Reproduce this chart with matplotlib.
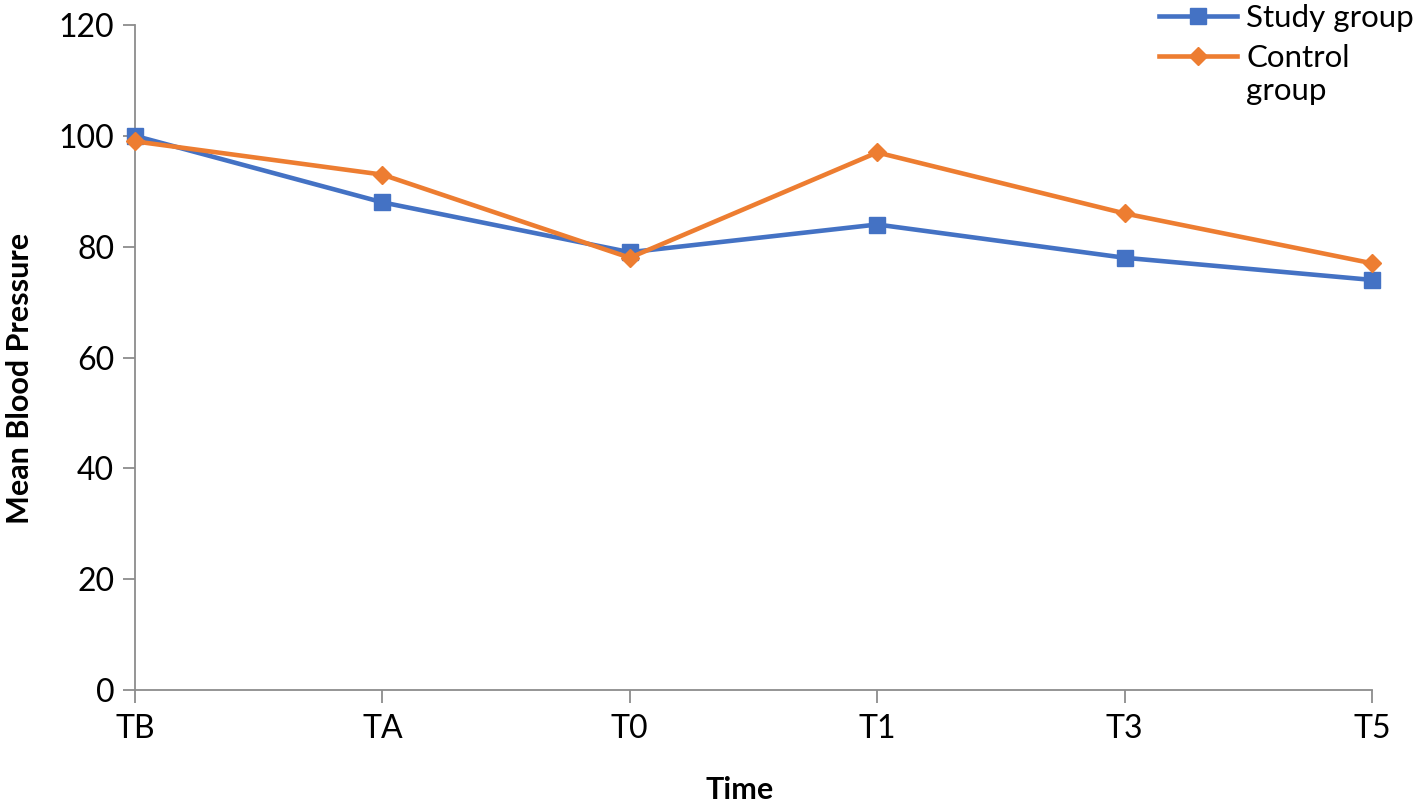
import matplotlib
matplotlib.use("Agg")
import matplotlib.pyplot as plt

plt.rcParams['font.family'] = ['Lato', 'DejaVu Sans']

categories = ["TB", "TA", "T0", "T1", "T3", "T5"]
study = [100, 88, 79, 84, 78, 74]
control = [99, 93, 78, 97, 86, 77]
yticks = [0, 20, 40, 60, 80, 100, 120]

fig = plt.figure(figsize=(14.16, 8.05), dpi=100)
ax = fig.add_axes([135/1416, 1-690/805, (1372-135)/1416, (690-25)/805])

x = list(range(len(categories)))
ax.plot(x, study, color="#4472C4", lw=3.3, marker="s", ms=12, label="Study group", zorder=3, clip_on=False)
ax.plot(x, control, color="#ED7D31", lw=3.3, marker="D", ms=9.5, label="Control", zorder=4, clip_on=False)

ax.set_xlim(0, len(categories) - 1)
ax.set_ylim(0, 120)
ax.set_xticks(x)
ax.set_xticklabels(categories)
ax.set_yticks(yticks)

for s in ["top", "right"]:
    ax.spines[s].set_visible(False)
for s in ["left", "bottom"]:
    ax.spines[s].set_color("#8C8C8C")
    ax.spines[s].set_linewidth(1.3)
ax.tick_params(axis="both", colors="#8C8C8C", length=9, width=1.3, labelsize=23, labelcolor="black")
ax.tick_params(axis="x", pad=8)
ax.tick_params(axis="y", pad=6)

fig.text(740/1416, 1-790/805, "Time", fontsize=22, fontweight="bold", ha="center", va="center")
fig.text(20/1416, 1-378/805, "Mean Blood Pressure", fontsize=22, fontweight="bold",
         ha="center", va="center", rotation=90)

leg = fig.legend(loc="upper left", bbox_to_anchor=(1146/1416, 1.011), frameon=False, fontsize=22.5,
                 handlelength=2.5, handletextpad=0.3, labelspacing=0.4, borderaxespad=0.0)

# continuation line of the wrapped "Control group" label
fig.canvas.draw()
ctext = leg.get_texts()[1]
bb = ctext.get_window_extent()
x0, y0 = fig.transFigure.inverted().transform((bb.x0, bb.y0))
fig.text(x0, y0 - 5/805, "group", fontsize=22.5, ha="left", va="top")

fig.savefig("out.png", dpi=100)
